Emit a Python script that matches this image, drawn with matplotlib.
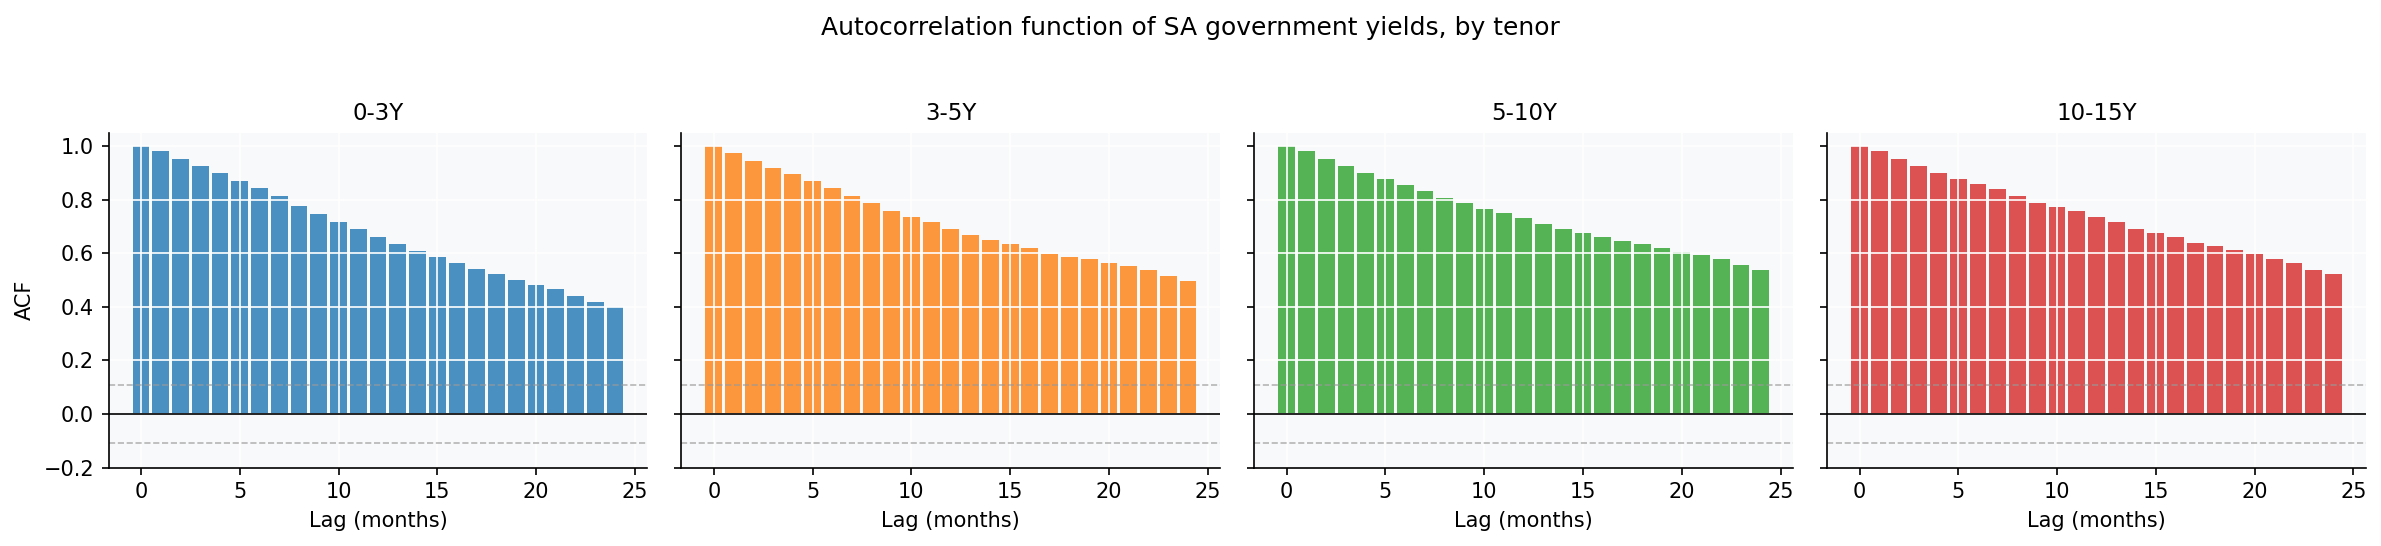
import matplotlib
matplotlib.use("Agg")
import matplotlib.pyplot as plt
import numpy as np

lags = list(range(25))
tenors = ["0-3Y", "3-5Y", "5-10Y", "10-15Y"]
acf_0_3 = [1.0, 0.980, 0.950, 0.924, 0.898, 0.871, 0.842, 0.812, 0.778, 0.745, 0.715,
           0.692, 0.662, 0.633, 0.610, 0.588, 0.565, 0.543, 0.521, 0.502, 0.483,
           0.465, 0.442, 0.420, 0.398]
acf_3_5 = [1.0, 0.976, 0.946, 0.920, 0.894, 0.868, 0.842, 0.815, 0.789, 0.759, 0.737,
           0.715, 0.692, 0.670, 0.651, 0.633, 0.618, 0.597, 0.588, 0.580, 0.565,
           0.551, 0.536, 0.517, 0.498]
acf_5_10 = [1.0, 0.980, 0.950, 0.924, 0.901, 0.879, 0.856, 0.834, 0.808, 0.786, 0.767,
            0.752, 0.733, 0.711, 0.689, 0.674, 0.659, 0.644, 0.633, 0.621, 0.606,
            0.595, 0.577, 0.558, 0.536]
acf_10_15 = [1.0, 0.980, 0.950, 0.927, 0.901, 0.879, 0.860, 0.838, 0.815, 0.789, 0.771,
             0.756, 0.737, 0.715, 0.692, 0.674, 0.659, 0.640, 0.629, 0.614, 0.597,
             0.580, 0.562, 0.539, 0.521]
series = [acf_0_3, acf_3_5, acf_5_10, acf_10_15]
colors = ["#1f77b4", "#ff7f0e", "#2ca02c", "#d62728"]
conf = 0.107

fig, axes = plt.subplots(1, 4, figsize=(2381/150, 546/150), dpi=150, sharey=True)
fig.subplots_adjust(left=0.0456, right=0.9937, bottom=0.1434, top=0.757, wspace=0.063)

for ax, name, vals, c in zip(axes, tenors, series, colors):
    ax.set_facecolor("#f8f9fa")
    ax.bar(lags, vals, width=0.85, color=c, alpha=0.8)
    ax.axhline(0, color="black", linewidth=0.8)
    ax.axhline(conf, color="#999999", linestyle="--", linewidth=0.8, alpha=0.7)
    ax.axhline(-conf, color="#999999", linestyle="--", linewidth=0.8, alpha=0.7)
    ax.grid(True, color="white", linewidth=0.8)
    ax.set_title(name, fontsize=11)
    ax.set_xlabel("Lag (months)", fontsize=10)
    ax.set_xlim(-1.64, 25.64)
    ax.set_ylim(-0.2, 1.05)
    ax.set_xticks([0, 5, 10, 15, 20, 25])
    ax.set_yticks([-0.2, 0.0, 0.2, 0.4, 0.6, 0.8, 1.0])
    ax.spines["top"].set_visible(False)
    ax.spines["right"].set_visible(False)
    ax.tick_params(labelsize=10)

axes[0].set_ylabel("ACF", fontsize=10)
fig.suptitle("Autocorrelation function of SA government yields, by tenor", fontsize=12, y=0.97)
fig.savefig("out.png", dpi=150)
